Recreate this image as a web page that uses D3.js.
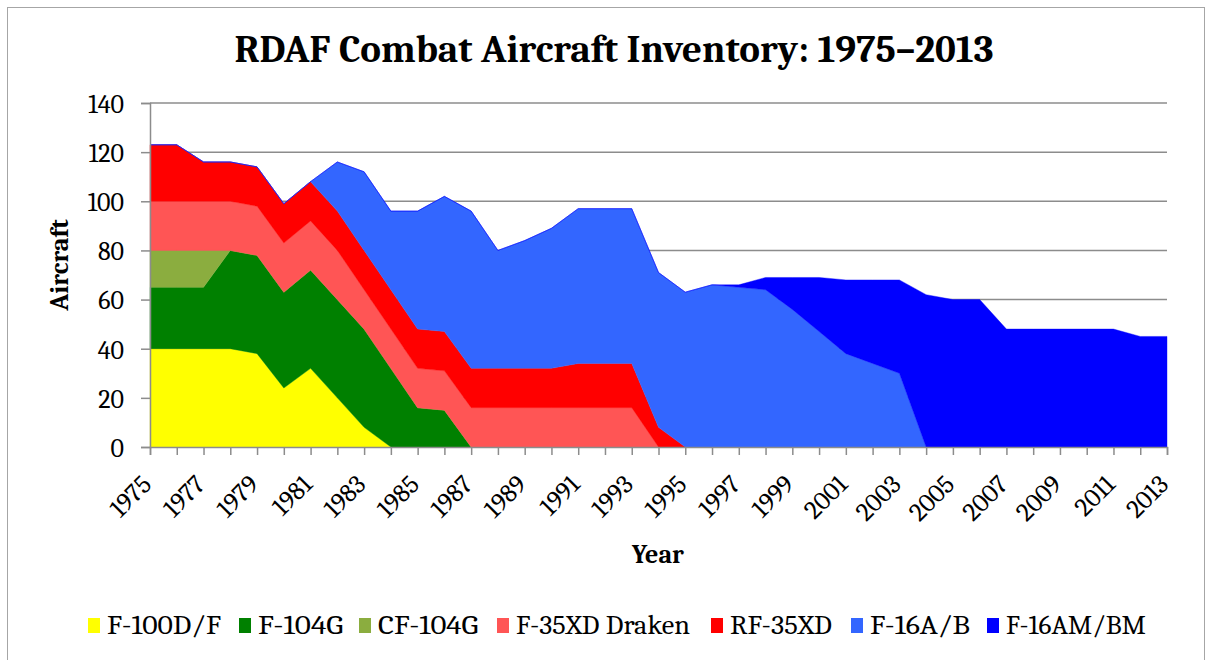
<!DOCTYPE html>
<html>
<head>
    <meta charset="utf-8">
    <title>RDAF Combat Aircraft Inventory</title>
    <script src="https://d3js.org/d3.v7.min.js"></script>
    <style>
        body { margin: 0; background: white; }
        text { font-family: Cambria, "DejaVu Serif", "Liberation Serif", serif; fill: black; }
        .title { font-size: 39px; font-weight: bold; }
        .axis-title { font-size: 26px; font-weight: bold; }
        .tick-label { font-size: 26px; }
        .legend-label { font-size: 26px; }
    </style>
</head>
<body>
<script>
    // years on the x axis
    var years = d3.range(1975, 2014);
    var tickYears = d3.range(1975, 2014, 2);
    var yTicks = [0, 20, 40, 60, 80, 100, 120, 140];

    // aircraft counts per year, 1975..2013
    var f100 = [40,40,40,40,38,24,32,20,8,0, 0,0,0,0,0,0,0,0,0,0, 0,0,0,0,0,0,0,0,0,0, 0,0,0,0,0,0,0,0,0];
    var f104g = [25,25,25,40,40,39,40,40,40,32, 16,15,0,0,0,0,0,0,0,0, 0,0,0,0,0,0,0,0,0,0, 0,0,0,0,0,0,0,0,0];
    var cf104g = [15,15,15,0,0,0,0,0,0,0, 0,0,0,0,0,0,0,0,0,0, 0,0,0,0,0,0,0,0,0,0, 0,0,0,0,0,0,0,0,0];
    var f35xd = [20,20,20,20,20,20,20,20,16,16, 16,16,16,16,16,16,16,16,16,0, 0,0,0,0,0,0,0,0,0,0, 0,0,0,0,0,0,0,0,0];
    var rf35xd = [23,23,16,16,16,16,16,16,16,16, 16,16,16,16,16,16,18,18,18,8, 0,0,0,0,0,0,0,0,0,0, 0,0,0,0,0,0,0,0,0];
    var f16ab = [0,0,0,0,0,0,0,20,32,32, 48,55,64,48,52,57,63,63,63,63, 63,66,65,64,56,47,38,34,30,0, 0,0,0,0,0,0,0,0,0];
    var f16ambm = [0,0,0,0,0,0,0,0,0,0, 0,0,0,0,0,0,0,0,0,0, 0,0,1,5,13,22,30,34,38,62, 60,60,48,48,48,48,48,45,45];

    var seriesNames = ["F-100D/F", "F-104G", "CF-104G", "F-35XD Draken", "RF-35XD", "F-16A/B", "F-16AM/BM"];
    var seriesValues = [f100, f104g, cf104g, f35xd, rf35xd, f16ab, f16ambm];
    var seriesColors = ["#ffff00", "#008000", "#8bad3f", "#ff5555", "#ff0000", "#3366ff", "#0000ff"];

    var width = 1212, height = 660;
    var plotLeft = 150, plotRight = 1167, plotTop = 103, plotBottom = 447;

    var svg = d3.select("body").append("svg")
                .attr("width", width).attr("height", height);

    svg.append("rect").attr("x", 7.5).attr("y", 7.5)
       .attr("width", 1197).attr("height", 700)
       .attr("fill", "white").attr("stroke", "#a6a6a6").attr("stroke-width", 1);

    // table for d3.stack
    var table = years.map(function(yr, i) {
        var row = {year: yr};
        seriesNames.forEach(function(n, k) { row[n] = seriesValues[k][i]; });
        return row;
    });

    var x = d3.scaleLinear().domain([1975, 2013]).range([plotLeft, plotRight]);
    var y = d3.scaleLinear().domain([0, 140]).range([plotBottom, plotTop]);

    // gridlines
    svg.append("g").selectAll("line").data(yTicks.slice(1)).enter().append("line")
       .attr("x1", plotLeft).attr("x2", plotRight)
       .attr("y1", function(d){ return y(d); }).attr("y2", function(d){ return y(d); })
       .attr("stroke", "#8c8c8c").attr("stroke-width", 1.5);

    var stacked = d3.stack().keys(seriesNames)(table);
    var area = d3.area()
                 .x(function(d){ return x(d.data.year); })
                 .y0(function(d){ return y(d[0]); })
                 .y1(function(d){ return y(d[1]); });

    svg.append("g").selectAll("path").data(stacked).enter().append("path")
       .attr("d", area)
       .attr("fill", function(d, i){ return seriesColors[i]; })
       .attr("stroke", function(d, i){ return seriesColors[i]; })
       .attr("stroke-width", 0.4);

    // y axis
    var yAxis = d3.axisLeft(y).tickValues(yTicks).tickSize(9).tickPadding(17);
    var gy = svg.append("g").attr("transform", "translate(" + plotLeft + ",0)").call(yAxis);
    gy.select(".domain").attr("stroke", "#8c8c8c").attr("stroke-width", 1.5);
    gy.selectAll(".tick line").attr("stroke", "#8c8c8c").attr("stroke-width", 1.5);
    gy.selectAll(".tick text").attr("class", "tick-label").attr("fill", null).attr("dy", "0.36em");

    // x axis
    var xAxis = d3.axisBottom(x).tickValues(years).tickSize(8).tickFormat("");
    var gx = svg.append("g").attr("transform", "translate(0," + plotBottom + ")").call(xAxis);
    gx.select(".domain").attr("stroke", "#8c8c8c").attr("stroke-width", 1.5);
    gx.selectAll(".tick line").attr("stroke", "#8c8c8c").attr("stroke-width", 1.5);

    svg.append("g").selectAll("text").data(tickYears).enter().append("text")
       .attr("class", "tick-label")
       .attr("text-anchor", "end")
       .attr("transform", function(d){ return "translate(" + (x(d) + 3) + "," + (plotBottom + 39) + ") rotate(-45)"; })
       .text(function(d){ return d; });

    // titles
    svg.append("text").attr("class", "title")
       .attr("x", 614).attr("y", 62).attr("text-anchor", "middle")
       .text("RDAF Combat Aircraft Inventory: 1975\u20132013");

    svg.append("text").attr("class", "axis-title")
       .attr("text-anchor", "middle")
       .attr("transform", "translate(68,265) rotate(-90)")
       .text("Aircraft");

    svg.append("text").attr("class", "axis-title")
       .attr("x", 658).attr("y", 563).attr("text-anchor", "middle")
       .text("Year");

    // legend
    var legendX = [88, 239, 359, 497, 711, 851, 987];
    var legendW = [114, 85, 100, 174, 102, 100, 140];
    var legend = svg.append("g").selectAll("g").data(seriesNames).enter().append("g")
                    .attr("transform", function(d, i){ return "translate(" + legendX[i] + ",0)"; });
    legend.append("rect").attr("x", 0).attr("y", 618).attr("width", 12).attr("height", 15)
          .attr("fill", function(d, i){ return seriesColors[i]; });
    legend.append("text").attr("class", "legend-label")
          .attr("x", 19).attr("y", 634)
          .attr("textLength", function(d, i){ return legendW[i]; })
          .attr("lengthAdjust", "spacingAndGlyphs")
          .text(function(d){ return d; });
</script>
</body>
</html>
